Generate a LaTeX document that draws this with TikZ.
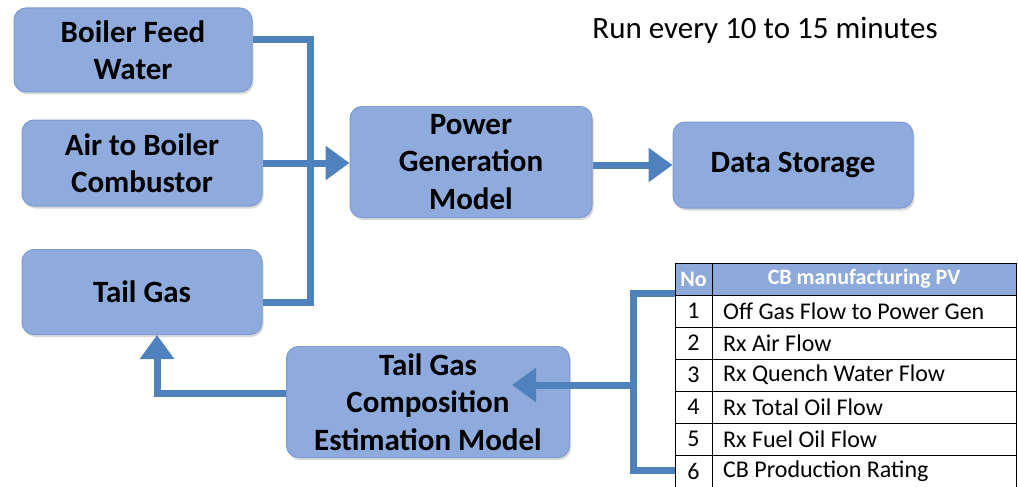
\documentclass[tikz,border=0pt]{standalone}
\usepackage{fontspec}
\setmainfont{Carlito}
\usetikzlibrary{arrows.meta,shadows,calc}
\definecolor{boxfill}{HTML}{8FAADC}
\definecolor{boxedge}{HTML}{7E9CD3}
\definecolor{flowblue}{HTML}{4F81BD}
\definecolor{headfill}{HTML}{8EAADB}
\tikzset{
  block/.style={draw=boxedge, line width=1pt, fill=boxfill, rounded corners=12pt,
    align=center, font=\fontsize{31}{37.5}\selectfont\bfseries, inner sep=0pt,
    drop shadow={opacity=0.3, shadow xshift=1.5pt, shadow yshift=-2.5pt}},
  pipe/.style={draw=flowblue, line width=7pt},
  flow/.style={pipe, -{Triangle[width=33pt,length=24pt]}},
  cell/.style={font=\fontsize{24}{26}\selectfont, anchor=west, inner sep=0pt},
  num/.style={font=\fontsize{24}{26}\selectfont, inner sep=0pt},
  rule/.style={draw=black, line width=1pt}
}
\begin{document}
\begin{tikzpicture}[x=1pt, y=-1pt]
\useasboundingbox (0,0) rectangle (1018,487);

% input and model blocks
\node[block, minimum width=238pt, minimum height=84pt] (bfw) at (133,50) {Boiler Feed\\Water};
\node[block, minimum width=240pt, minimum height=86pt] (air) at (142,163) {Air to Boiler\\Combustor};
\node[block, minimum width=240pt, minimum height=85pt] (tail) at (142,292) {Tail Gas};
\node[block, minimum width=242pt, minimum height=111pt] (pgm) at (471,162) {Power\\Generation\\Model};
\node[block, minimum width=240pt, minimum height=86pt] (ds) at (793,165) {Data Storage};
\node[block, minimum width=283pt, minimum height=111pt] (tgc) at (428,402) {Tail Gas\\Composition\\Estimation Model};

\node[font=\fontsize{31}{34}\selectfont, inner sep=0pt] (run) at (765,30) {Run every 10 to 15 minutes};

% process variable table
\fill[headfill] (675,263) rectangle (1016,295);
\foreach \yy in {263,295,327,359,391,423,455}
  \draw[rule] (675,\yy) -- (1016,\yy);
\draw[rule] (675,263) -- (675,487);
\draw[rule] (712,263) -- (712,487);
\draw[rule] (1016,263) -- (1016,487);
\node[num, text=white, font=\fontsize{22}{24}\selectfont\bfseries] (hno) at (693.5,279) {No};
\node[num, text=white, font=\fontsize{22}{24}\selectfont\bfseries] (hpv) at (864,279) {CB manufacturing PV};
\foreach \i/\t [count=\k from 0] in {1/Off Gas Flow to Power Gen, 2/Rx Air Flow, 3/Rx Quench Water Flow, 4/Rx Total Oil Flow, 5/Rx Fuel Oil Flow, 6/CB Production Rating}{
  \node[num] (n\i) at (693.5,{311+32*\k}) {\i};
  \node[cell] (r\i) at (723,{311+32*\k}) {\t};
}

% bus collecting the boiler inputs
\coordinate (busT) at (310,40);
\coordinate (busB) at (310,302);
\draw[pipe, line join=miter] (bfw.east |- busT) -- (busT) -- (busB) -- (tail.east |- busB);
\draw[flow] (air.east) -- (pgm.west |- air.east);
\draw[flow] (pgm.east |- ds.west) -- (ds.west);

% bracket gathering the table variables
\coordinate (brT) at (633,293);
\coordinate (brB) at (633,470);
\coordinate (brM) at (633,385);
\coordinate (tgcIn) at (512,385);
\draw[pipe, line join=miter] (675,293) -- (brT) -- (brB) -- (675,470);
\draw[flow] (brM) -- (tgcIn);

% estimated composition fed back to the tail gas block
\coordinate (tgcOut) at (tgc.west |- 0,393);
\draw[flow] (tgcOut) -| ([xshift=15pt]tail.south);
\end{tikzpicture}
\end{document}
